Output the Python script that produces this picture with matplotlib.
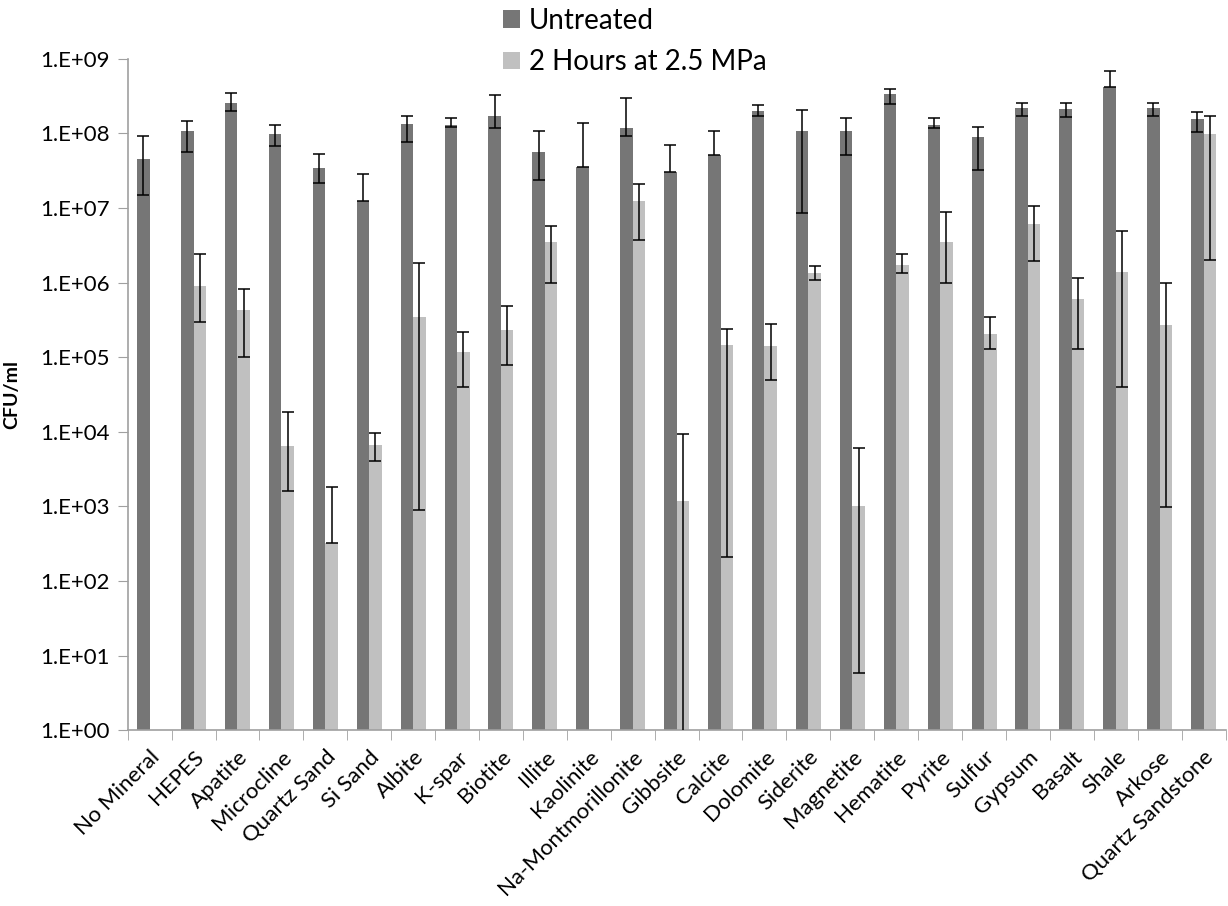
import numpy as np
import matplotlib.pyplot as plt
from matplotlib.ticker import FixedLocator, FuncFormatter

# Data (CFU/ml, log scale)
minerals = ["No Mineral", "HEPES", "Apatite", "Microcline", "Quartz Sand", "Si Sand",
            "Albite", "K-spar", "Biotite", "Illite", "Kaolinite", "Na-Montmorillonite",
            "Gibbsite", "Calcite", "Dolomite", "Siderite", "Magnetite", "Hematite",
            "Pyrite", "Sulfur", "Gypsum", "Basalt", "Shale", "Arkose", "Quartz Sandstone"]

untreated = [4.5e7, 1.07e8, 2.6e8, 9.7e7, 3.45e7, 1.23e7,
             1.35e8, 1.3e8, 1.7e8, 5.6e7, 3.6e7, 1.2e8,
             3.0e7, 5.1e7, 2.0e8, 1.07e8, 1.07e8, 3.4e8,
             1.3e8, 9.1e7, 2.2e8, 2.1e8, 4.2e8, 2.2e8, 1.55e8]
untreated_hi = [9.3e7, 1.45e8, 3.5e8, 1.29e8, 5.3e7, 2.9e7,
                1.74e8, 1.59e8, 3.3e8, 1.07e8, 1.37e8, 2.96e8,
                7.0e7, 1.07e8, 2.4e8, 2.04e8, 1.6e8, 4.0e8,
                1.6e8, 1.24e8, 2.6e8, 2.6e8, 6.8e8, 2.6e8, 1.96e8]
untreated_lo = [1.5e7, 5.6e7, 2.0e8, 6.7e7, 2.2e7, 1.23e7,
                7.8e7, 1.22e8, 1.17e8, 2.4e7, 3.6e7, 9.3e7,
                3.0e7, 5.1e7, 1.7e8, 8.6e6, 5.2e7, 2.45e8,
                1.17e8, 3.2e7, 1.74e8, 1.67e8, 4.2e8, 1.7e8, 1.05e8]

treated = [np.nan, 9.1e5, 4.3e5, 6.5e3, 3.2e2, 6.6e3,
           3.5e5, 1.17e5, 2.3e5, 3.5e6, np.nan, 1.26e7,
           1.2e3, 1.45e5, 1.4e5, 1.35e6, 1.0e3, 1.74e6,
           3.5e6, 2.08e5, 6.1e6, 6.1e5, 1.4e6, 2.7e5, 9.8e7]
treated_hi = [np.nan, 2.45e6, 8.3e5, 1.85e4, 1.8e3, 9.8e3,
              1.86e6, 2.2e5, 4.8e5, 5.8e6, np.nan, 2.1e7,
              9.3e3, 2.4e5, 2.8e5, 1.66e6, 6.0e3, 2.4e6,
              8.9e6, 3.5e5, 1.07e7, 1.15e6, 5.0e6, 1.0e6, 1.74e8]
treated_lo = [np.nan, 3.0e5, 1.0e5, 1.6e3, 3.2e2, 4.1e3,
              9.0e2, 4.0e4, 7.9e4, 9.8e5, np.nan, 3.7e6,
              0.1, 2.1e2, 4.9e4, 1.07e6, 5.9, 1.35e6,
              9.8e5, 1.28e5, 1.95e6, 1.28e5, 4.0e4, 9.8e2, 2.0e6]

series_names = ["Untreated", "2 Hours at 2.5 MPa"]
colors = ["#767676", "#c0c0c0"]

plt.rcParams['font.family'] = ['Lato', 'DejaVu Sans']

x = np.arange(len(minerals))
w = 0.285

fig = plt.figure(figsize=(12.28, 9.06), dpi=100)
ax = fig.add_axes([0.104, 0.194, 0.894, 0.741])

u = np.array(untreated)
t = np.array(treated)
u_err = [u - np.array(untreated_lo), np.array(untreated_hi) - u]
t_err = [t - np.array(treated_lo), np.array(treated_hi) - t]

ax.bar(x - w / 2, u, w, color=colors[0], label=series_names[0], zorder=2)
ax.bar(x + w / 2, t, w, color=colors[1], label=series_names[1], zorder=2)
ax.errorbar(x - w / 2, u, yerr=u_err, fmt='none', ecolor='black', elinewidth=1.1,
            capsize=4, capthick=1.1, zorder=3)
ax.errorbar(x + w / 2, t, yerr=t_err, fmt='none', ecolor='black', elinewidth=1.1,
            capsize=4, capthick=1.1, zorder=3)

ax.set_yscale('log')
ax.set_ylim(1, 1e9)
ax.set_xlim(-0.5, len(minerals) - 0.5)
ax.yaxis.set_major_locator(FixedLocator([10.0 ** k for k in range(10)]))
ax.yaxis.set_minor_locator(FixedLocator([]))
ax.yaxis.set_major_formatter(FuncFormatter(lambda v, p: "1.E+%02d" % round(np.log10(v))))

ax.set_xticks(x)
ax.set_xticklabels(minerals, rotation=45, ha='right', rotation_mode='anchor', fontsize=16)
ax.set_xticks(np.arange(len(minerals) + 1) - 0.5, minor=True)
ax.tick_params(axis='x', which='major', length=0, pad=12)
ax.tick_params(axis='x', which='minor', length=7, color='#a0a0a0', direction='out')
ax.tick_params(axis='y', which='major', length=7, color='#a0a0a0', labelsize=16, pad=6)

for s in ['top', 'right']:
    ax.spines[s].set_visible(False)
for s in ['left', 'bottom']:
    ax.spines[s].set_color('#a0a0a0')
    ax.spines[s].set_linewidth(1.2)

ax.set_ylabel("CFU/ml", fontsize=14, fontweight='bold', labelpad=14)

fig.legend(loc='upper left', bbox_to_anchor=(503 / 1228, 1 - 8 / 906), frameon=False,
           fontsize=20, borderpad=0, borderaxespad=0, handlelength=0.6, handleheight=0.6,
           handletextpad=0.33, labelspacing=0.55)

fig.savefig("out.png", dpi=100)
